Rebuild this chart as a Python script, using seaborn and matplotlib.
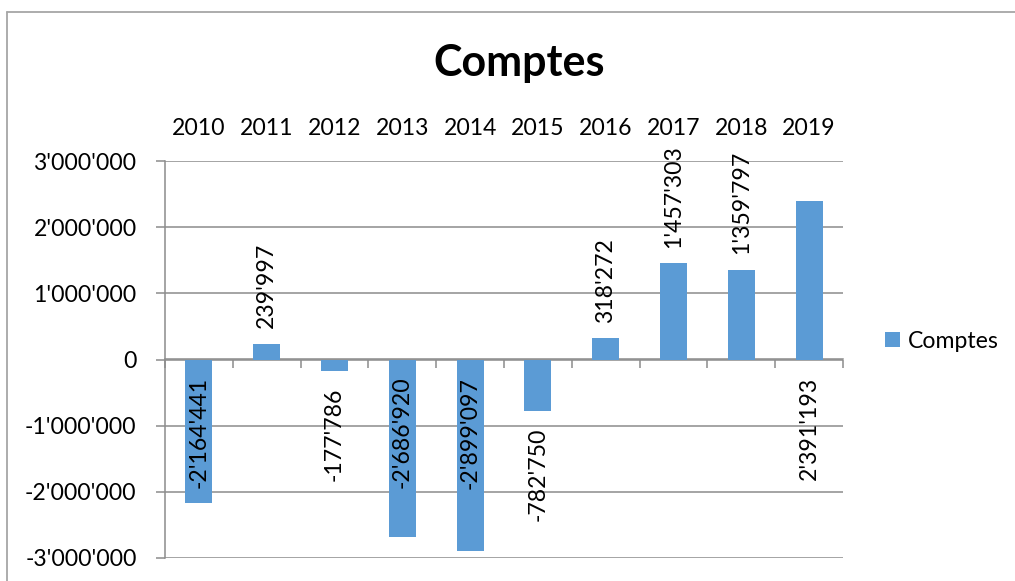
import matplotlib
matplotlib.use("Agg")
import matplotlib.pyplot as plt
import seaborn as sns
import pandas as pd
from matplotlib.patches import Patch
from matplotlib.lines import Line2D
from matplotlib.ticker import FuncFormatter, MultipleLocator

# ---- data ----
years = ["2010", "2011", "2012", "2013", "2014", "2015", "2016", "2017", "2018", "2019"]
values = [-2164441, 239997, -177786, -2686920, -2899097, -782750, 318272, 1457303, 1359797, 2391193]
series_name = "Comptes"
title = "Comptes"

sns.set_theme(style="white")
plt.rcParams["font.family"] = ["Lato", "DejaVu Sans"]
plt.rcParams["text.color"] = "black"

BAR = "#5B9BD5"
GRID = "#8c8c8c"
FS = 16.6

W, H = 1015, 581
fig = plt.figure(figsize=(W / 100, H / 100), dpi=100)
ax = fig.add_axes([165 / W, 1 - 558 / H, (843 - 165) / W, (558 - 161) / H])

df = pd.DataFrame({"year": years, "value": values, "series": series_name})
sns.barplot(data=df, x="year", y="value", hue="series", palette=[BAR],
            width=0.4, dodge=False, legend=False, ax=ax, saturation=1,
            edgecolor="none")

ax.set_ylim(-3_000_000, 3_000_000)
ax.set_xlim(-0.5, len(years) - 0.5)
ax.yaxis.set_major_locator(MultipleLocator(1_000_000))
fmt = lambda v: f"{int(round(v)):,}".replace(",", "'")
ax.yaxis.set_major_formatter(FuncFormatter(lambda v, p: fmt(v)))
ax.grid(axis="y", color=GRID, linewidth=1.1)
ax.set_axisbelow(True)
for s in ["top", "right", "bottom"]:
    ax.spines[s].set_visible(False)
ax.spines["left"].set_color(GRID)
ax.spines["left"].set_linewidth(1.1)
ax.tick_params(axis="y", which="major", left=True, length=6.5, width=1.1,
               color=GRID, pad=14, labelsize=FS, labelcolor="black")

# category labels on top
ax.xaxis.set_ticks_position("top")
ax.xaxis.set_label_position("top")
ax.tick_params(axis="x", top=True, bottom=False, length=0, pad=15.5,
               labelsize=FS, labelcolor="black")
ax.set_xlabel("")
ax.set_ylabel("")

# zero axis with boundary tick marks
sec = ax.secondary_xaxis(0.5)
sec.set_xticks([i - 0.5 for i in range(len(years) + 1)])
sec.set_xticklabels([])
sec.xaxis.set_ticks_position("bottom")
sec.tick_params(axis="x", bottom=True, top=False, direction="out",
                length=6, width=1.1, color=GRID)
for s in sec.spines.values():
    s.set_color(GRID)
    s.set_linewidth(1.1)

# data labels
for i, v in enumerate(values):
    txt = fmt(v)
    if abs(v) >= 2_000_000:
        ax.annotate(txt, (i, 0), xytext=(0, -12.5), textcoords="offset points",
                    rotation=90, ha="center", va="top", fontsize=FS, color="black")
    elif v > 0:
        ax.annotate(txt, (i, v), xytext=(0, 11), textcoords="offset points",
                    rotation=90, ha="center", va="bottom", fontsize=FS, color="black")
    else:
        ax.annotate(txt, (i, v), xytext=(0, -11.5), textcoords="offset points",
                    rotation=90, ha="center", va="top", fontsize=FS, color="black")

# title
fig.text(519 / W, 1 - 63 / H, title, ha="center", va="center",
         fontsize=31, fontweight="bold", color="black")

# legend
handle = Patch(facecolor=BAR, edgecolor="none", label=series_name)
leg = ax.legend(handles=[handle], loc="center left",
                bbox_to_anchor=(885 / W, 1 - 341 / H), bbox_transform=fig.transFigure,
                frameon=False, fontsize=FS, handlelength=0.65, handleheight=0.65,
                handletextpad=0.35, borderpad=0, borderaxespad=0)
for t in leg.get_texts():
    t.set_color("black")

# chart-area border (top and left visible)
fig.add_artist(Line2D([7 / W, 1], [1 - 12 / H, 1 - 12 / H], transform=fig.transFigure,
                      color="#a6a6a6", linewidth=1.3))
fig.add_artist(Line2D([7 / W, 7 / W], [0, 1 - 12 / H], transform=fig.transFigure,
                      color="#a6a6a6", linewidth=1.3))

fig.savefig("out.png", dpi=100)
